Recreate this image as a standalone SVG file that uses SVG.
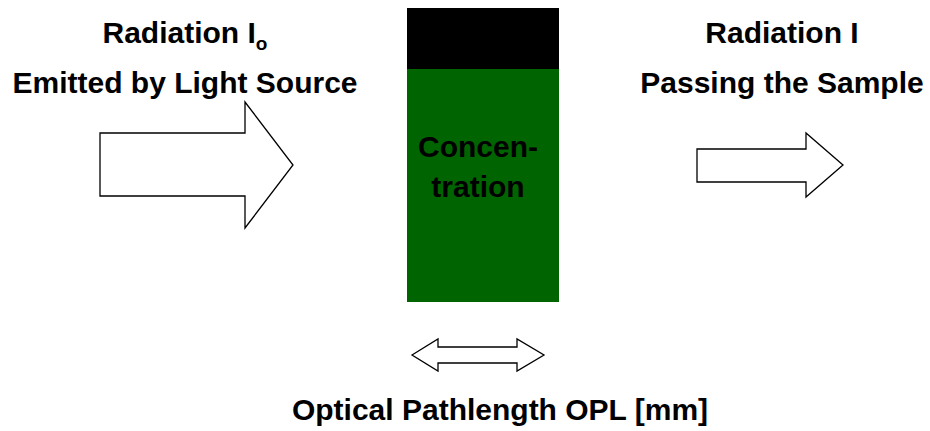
<svg xmlns="http://www.w3.org/2000/svg" width="930" height="431" viewBox="0 0 930 431">
<style>
text{font-family:"Liberation Sans",Arial,sans-serif;font-weight:bold;font-size:30px;fill:#000;text-anchor:middle}
.arrow{fill:#fff;stroke:#000;stroke-width:1.3}
</style>
<rect width="930" height="431" fill="#fff"/>
<g id="label-source">
<text x="185" y="43">Radiation I<tspan font-size="19" dy="7">o</tspan></text>
<text x="185" y="93">Emitted by Light Source</text>
</g>
<g id="label-passing">
<text x="782" y="43">Radiation I</text>
<text x="782" y="93">Passing the Sample</text>
</g>
<g id="sample">
<rect x="407" y="8" width="152" height="61" fill="#000"/>
<rect x="407" y="69" width="152" height="233" fill="#006400"/>
<text x="478" y="157">Concen-</text>
<text x="478" y="197">tration</text>
</g>
<g id="connectors">
<polygon id="arrow-in" class="arrow" points="100,133 245,133 245,102 293,165 245,228 245,196 100,196"/>
<polygon id="arrow-out" class="arrow" points="697,149 806,149 806,133 843,165 806,197 806,182 697,182"/>
<polygon id="arrow-opl" class="arrow" points="412,355 438,339 438,347 517,347 517,339 544,355 517,371 517,363 438,363 438,371"/>
</g>
<g id="label-opl">
<text x="500" y="420">Optical Pathlength OPL [mm]</text>
</g>
</svg>
